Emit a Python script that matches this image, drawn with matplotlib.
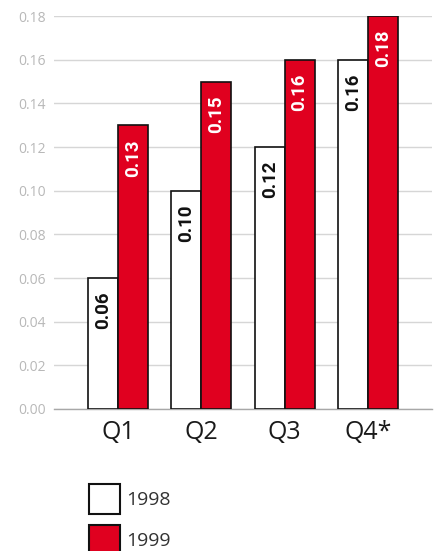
import numpy as np
import matplotlib
matplotlib.use('Agg')
import matplotlib.pyplot as plt
from matplotlib.patches import Patch

quarters = ['Q1', 'Q2', 'Q3', 'Q4*']
vals_1998 = [0.06, 0.10, 0.12, 0.16]
vals_1999 = [0.13, 0.15, 0.16, 0.18]
labels_1998 = ['0.06', '0.10', '0.12', '0.16']
labels_1999 = ['0.13', '0.15', '0.16', '0.18']
yticks = [0.00, 0.02, 0.04, 0.06, 0.08, 0.10, 0.12, 0.14, 0.16, 0.18]

red = '#e0001f'

fig = plt.figure(figsize=(4.37, 5.51), dpi=100)
ax = fig.add_axes([54/437, 1 - 409/551, (432 - 54)/437, (409 - 16)/551])

x = np.arange(len(quarters))
w = 0.36
b1 = ax.bar(x - w/2, vals_1998, w, color='white', edgecolor='#111111', linewidth=1.2, zorder=3)
b2 = ax.bar(x + w/2, vals_1999, w, color=red, edgecolor='#111111', linewidth=1.2, zorder=3)

for xs, vs, ls, c in [(x - w/2, vals_1998, labels_1998, '#111111'),
                      (x + w/2, vals_1999, labels_1999, 'white')]:
    for xi, v, l in zip(xs, vs, ls):
        ax.annotate(l, (xi, v), xytext=(0, -10), textcoords='offset points',
                    rotation=90, ha='center', va='top', color=c,
                    fontsize=13.5, fontweight='bold', family='Roboto', zorder=4)

ax.set_xlim(-0.77, 3.77)
ax.set_ylim(0, 0.18)
ax.set_yticks(yticks)
ax.set_yticklabels(['%.2f' % t for t in yticks], color='#b8b8b8', fontsize=10, family='Open Sans')
ax.set_xticks(x)
ax.set_xticklabels(quarters, fontsize=18, color='#1a1a1a', family='Open Sans')
ax.tick_params(axis='both', length=0)
ax.tick_params(axis='y', pad=6)
ax.tick_params(axis='x', pad=8)
ax.grid(axis='y', color='#d6d6d6', linewidth=1, zorder=0)
for s in ['top', 'right', 'left']:
    ax.spines[s].set_visible(False)
ax.spines['bottom'].set_color('#a8a8a8')
ax.spines['bottom'].set_linewidth(1)

handles = [Patch(facecolor='white', edgecolor='#111111', linewidth=1.5),
           Patch(facecolor=red, edgecolor='#111111', linewidth=1.5)]
fig.legend(handles, ['1998', '1999'], loc='upper left',
           bbox_to_anchor=(89/437, 1 - 484/551), frameon=False,
           prop={'family': 'Open Sans', 'size': 14},
           handlelength=1.6, handleheight=2.0, labelspacing=0.55,
           handletextpad=0.3, borderpad=0, borderaxespad=0, labelcolor='#333333')

fig.savefig('out.png', dpi=100)
